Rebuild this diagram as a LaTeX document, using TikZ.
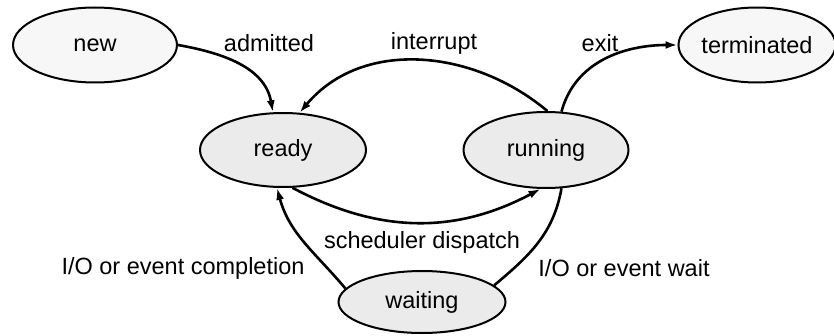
\documentclass[tikz,border=0pt]{standalone}
\usepackage{fontspec}
\setmainfont{Liberation Sans}
\usetikzlibrary{arrows.meta}
\usetikzlibrary{shapes.geometric}
\tikzset{state/.style = {draw, ellipse, line width = 2, inner sep = 0, fill = gray!16}}
\tikzset{pale/.style = {fill = gray!6}}
\tikzset{trans/.style = {line width = 2.6, -{Latex[length = 12, width = 8]}}}
\tikzset{lbl/.style = {inner sep = 0}}

\begin{document}
\begin{tikzpicture}[x=1pt, y=1pt, font=\fontsize{23.5}{28}\selectfont]
      \useasboundingbox (0, 0) rectangle (834, 335);
      \node [state, pale, minimum width = 164, minimum height = 75] (new) at (95, 290) {new};
      \node [state, minimum width = 166, minimum height = 74] (ready) at (283, 185) {ready};
      \node [state, minimum width = 165, minimum height = 76] (running) at (546, 185) {running};
      \node [state, pale, minimum width = 151, minimum height = 75] (terminated) at (757, 290) {terminated};
      \node [state, minimum width = 167, minimum height = 62] (waiting) at (422, 33) {waiting};

      \node [lbl] (admitted) at (269, 292) {admitted};
      \node [lbl] (interrupt) at (434, 292) {interrupt};
      \node [lbl] (exit) at (600, 292) {exit};
      \node [lbl] (dispatch) at (422, 93) {scheduler dispatch};
      \node [lbl] (completion) at (183, 67) {I/O or event completion};
      \node [lbl] (wait) at (624, 67) {I/O or event wait};

      \draw [trans] (new.east) to [out = -10, in = 100] (ready.105);
      \draw [trans] (running.88) to [out = 140, in = 50] (ready.66);
      \draw [trans] (running.68) to [out = 75, in = 180] (terminated.west);
      \draw [trans] (ready.-76) to [out = -28, in = -152] (running.-98);
      \draw [trans] (waiting.170) to [out = 130, in = -75] (ready.-99);
      \draw [line width = 2.6] (running.-68) to [out = -100, in = 40] (waiting.13);

    \end{tikzpicture}
\end{document}
